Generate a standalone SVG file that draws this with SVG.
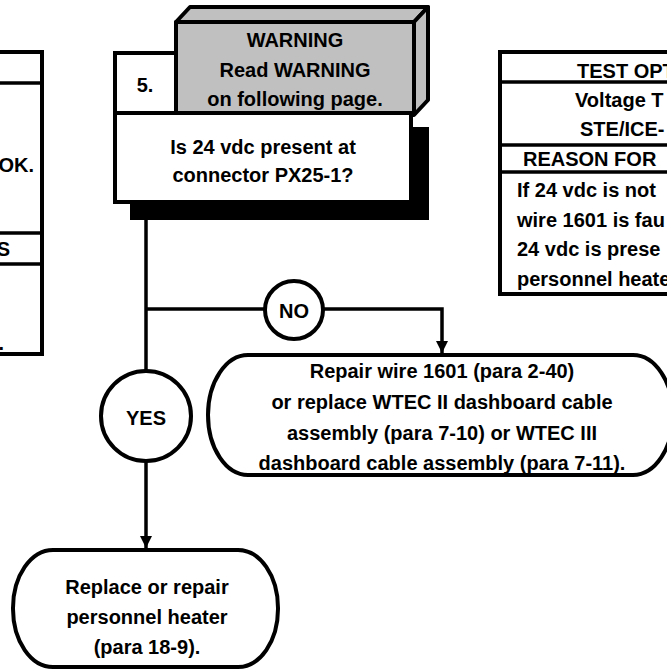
<svg xmlns="http://www.w3.org/2000/svg" width="667" height="672" viewBox="0 0 667 672">
<style>
text{font-family:"Liberation Sans",Arial,Helvetica,sans-serif;font-weight:bold;font-size:20px;fill:#000}
.c{text-anchor:middle}
.e{text-anchor:end}
.box{fill:#fff;stroke:#000;stroke-width:4}
.ln{fill:none;stroke:#000;stroke-width:3.5}
.gray{fill:#c0c0c0;stroke:#000;stroke-width:4;stroke-linejoin:round}
</style>
<defs>
<marker id="ah" viewBox="0 0 12 24" refX="12" refY="12" markerWidth="12" markerHeight="24" markerUnits="userSpaceOnUse" orient="auto">
<path d="M0,6 L12,12 L0,18 Z" fill="#000"/>
</marker>
</defs>
<rect width="667" height="672" fill="#fff"/>

<g id="left-table">
<rect class="box" x="-20" y="52" width="62" height="302"/>
<line class="ln" x1="-20" y1="83" x2="42" y2="83" stroke-width="4"/>
<line class="ln" x1="-20" y1="233" x2="42" y2="233" stroke-width="4"/>
<line class="ln" x1="-20" y1="264" x2="42" y2="264" stroke-width="4"/>
<text class="e" x="34" y="172">OK.</text>
<text class="e" x="10" y="256">S</text>
<text class="e" x="4" y="350">.</text>
</g>

<g id="right-table">
<rect class="box" x="500" y="52" width="190" height="242"/>
<line class="ln" x1="500" y1="82" x2="690" y2="82" stroke-width="4"/>
<line class="ln" x1="500" y1="145" x2="690" y2="145" stroke-width="4"/>
<line class="ln" x1="500" y1="172" x2="690" y2="172" stroke-width="4"/>
<text x="577" y="78">TEST OPT</text>
<text x="575" y="107">Voltage T</text>
<text x="580" y="136">STE/ICE-</text>
<text x="523" y="166">REASON FOR</text>
<text x="517" y="197">If 24 vdc is not</text>
<text x="517" y="227">wire 1601 is fau</text>
<text x="517" y="256">24 vdc is prese</text>
<text x="517" y="286">personnel heate</text>
</g>

<g id="step5">
<rect x="130" y="127" width="299" height="93" fill="#000"/>
<rect class="box" x="115" y="113" width="296" height="89"/>
<rect class="box" x="115" y="53" width="61" height="60"/>
<rect class="gray" x="176" y="22" width="238" height="91"/>
<polygon class="gray" points="176,22 190,7 428,7 414,22"/>
<polygon class="gray" points="414,22 428,7 428,100 414,115"/>
<text class="c" x="295" y="47">WARNING</text>
<text class="c" x="295" y="77">Read WARNING</text>
<text class="c" x="295" y="106">on following page.</text>
<text class="c" x="145" y="92">5.</text>
<text class="c" x="263" y="154">Is 24 vdc present at</text>
<text class="c" x="263" y="182">connector PX25-1?</text>
</g>

<g id="connectors">
<line class="ln" x1="146" y1="220" x2="146" y2="372"/>
<line class="ln" x1="146" y1="309" x2="265" y2="309"/>
<polyline class="ln" points="323,309 442,309 442,353" marker-end="url(#ah)"/>
<line class="ln" x1="146" y1="461" x2="146" y2="548" marker-end="url(#ah)"/>
</g>

<g id="no-label">
<circle class="box" cx="294" cy="310" r="29" stroke-width="3.5"/>
<text class="c" x="294" y="318">NO</text>
</g>

<g id="yes-label">
<circle class="box" cx="146" cy="416" r="45" stroke-width="3.5"/>
<text class="c" x="146" y="425">YES</text>
</g>

<g id="repair-wire">
<rect class="box" x="208" y="355" width="465" height="120" rx="40" ry="60"/>
<text class="c" x="442" y="378">Repair wire 1601 (para 2-40)</text>
<text class="c" x="442" y="409">or replace WTEC II dashboard cable</text>
<text class="c" x="442" y="440">assembly (para 7-10) or WTEC III</text>
<text class="c" x="442" y="470">dashboard cable assembly (para 7-11).</text>
</g>

<g id="replace-heater">
<rect class="box" x="13" y="550" width="265" height="117" rx="40" ry="58"/>
<text class="c" x="147" y="594">Replace or repair</text>
<text class="c" x="147" y="624">personnel heater</text>
<text class="c" x="147" y="654">(para 18-9).</text>
</g>
</svg>
